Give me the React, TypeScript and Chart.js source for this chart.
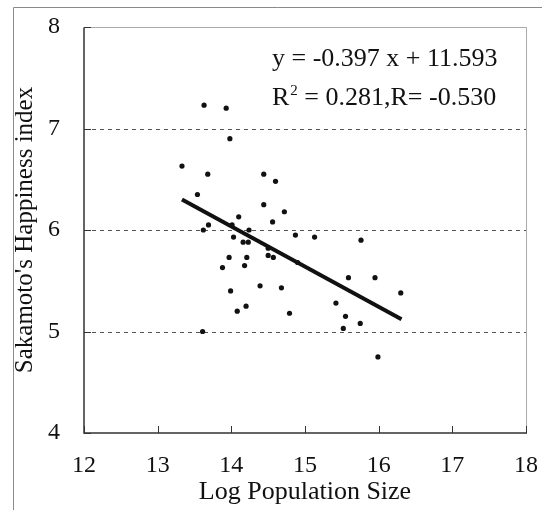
import React, { useEffect, useRef } from "react";
import { Chart, registerables } from "chart.js";
Chart.register(...registerables);

const popX = [13.63, 13.93, 13.98, 13.33, 13.68, 14.44, 14.6, 13.54, 14.44, 14.72, 14.1, 14.56, 13.69, 14.01, 13.62, 14.24, 14.03, 14.87, 15.13, 14.16, 14.23, 15.76, 14.5, 14.57, 13.97, 14.21, 14.18, 13.88, 15.59, 15.95, 14.39, 14.68, 13.99, 16.3, 15.42, 14.2, 14.08, 14.79, 15.55, 15.75, 15.52, 13.61, 15.99, 14.5, 14.9];
const happyY = [7.23, 7.2, 6.9, 6.63, 6.55, 6.55, 6.48, 6.35, 6.25, 6.18, 6.13, 6.08, 6.05, 6.05, 6.0, 6.0, 5.93, 5.95, 5.93, 5.88, 5.88, 5.9, 5.75, 5.73, 5.73, 5.73, 5.65, 5.63, 5.53, 5.53, 5.45, 5.43, 5.4, 5.38, 5.28, 5.25, 5.2, 5.18, 5.15, 5.08, 5.03, 5.0, 4.75, 5.82, 5.68];
const fitX = [13.33, 16.31];
const fitY = [6.3, 5.12];
const xTickValues = [12, 13, 14, 15, 16, 17, 18];
const yTickValues = [4, 5, 6, 7, 8];
const gridValues = [5, 6, 7];
const xTitle = "Log Population Size";
const yTitle = "Sakamoto's Happiness index";
const eqLine1 = "y = -0.397 x + 11.593";
const eqLine2a = "R";
const eqLine2sup = "2";
const eqLine2b = " = 0.281,R= -0.530";

const FONT = "'Liberation Serif', 'Times New Roman', serif";

export default function App() {
  const ref = useRef<HTMLCanvasElement | null>(null);
  useEffect(() => {
    if (!ref.current) return;
    const decor = {
      id: "decor",
      beforeDraw(chart: any) {
        const ctx = chart.ctx;
        ctx.save();
        ctx.fillStyle = "#fff";
        ctx.fillRect(0, 0, chart.width, chart.height);
        ctx.strokeStyle = "#8a8a8a";
        ctx.lineWidth = 1;
        ctx.beginPath();
        ctx.moveTo(13.5, chart.height);
        ctx.lineTo(13.5, 7.5);
        ctx.lineTo(chart.width, 7.5);
        ctx.stroke();
        ctx.restore();
      },
      beforeDatasetsDraw(chart: any) {
        const ctx = chart.ctx;
        const { left, right, top, bottom } = chart.chartArea;
        const xs = chart.scales.x;
        const ys = chart.scales.y;
        ctx.save();
        ctx.strokeStyle = "#555";
        ctx.lineWidth = 1;
        ctx.setLineDash([4, 4]);
        for (const v of gridValues) {
          const y = Math.round(ys.getPixelForValue(v)) + 0.5;
          ctx.beginPath();
          ctx.moveTo(left, y);
          ctx.lineTo(right, y);
          ctx.stroke();
        }
        ctx.setLineDash([]);
        ctx.strokeStyle = "#aaa";
        ctx.beginPath();
        ctx.moveTo(left, Math.round(top) + 0.5);
        ctx.lineTo(Math.round(right) + 0.5, Math.round(top) + 0.5);
        ctx.lineTo(Math.round(right) + 0.5, Math.round(bottom) + 0.5);
        ctx.stroke();
        ctx.strokeStyle = "#333";
        ctx.lineWidth = 1.5;
        ctx.beginPath();
        ctx.moveTo(Math.round(left), Math.round(top) + 0.5);
        ctx.lineTo(Math.round(left), Math.round(bottom));
        ctx.lineTo(Math.round(right) + 1, Math.round(bottom));
        ctx.stroke();
        ctx.lineWidth = 1;
        for (const v of xTickValues) {
          const x = Math.round(xs.getPixelForValue(v)) + 0.5;
          ctx.beginPath();
          ctx.moveTo(x, bottom);
          ctx.lineTo(x, bottom - 7);
          ctx.stroke();
        }
        for (const v of yTickValues) {
          const y = Math.round(ys.getPixelForValue(v)) + 0.5;
          ctx.beginPath();
          ctx.moveTo(left, y);
          ctx.lineTo(left + 7, y);
          ctx.stroke();
        }
        ctx.restore();
      },
      afterDraw(chart: any) {
        const ctx = chart.ctx;
        ctx.save();
        ctx.fillStyle = "#111";
        ctx.textBaseline = "alphabetic";
        ctx.textAlign = "left";
        ctx.font = `26px ${FONT}`;
        const x0 = 272;
        ctx.fillText(eqLine1, x0, 66);
        ctx.fillText(eqLine2a, x0, 105);
        const wR = ctx.measureText(eqLine2a).width;
        ctx.font = `15px ${FONT}`;
        ctx.fillText(eqLine2sup, x0 + wR + 1, 95);
        const wS = ctx.measureText(eqLine2sup).width;
        ctx.font = `26px ${FONT}`;
        ctx.fillText(eqLine2b, x0 + wR + wS + 1, 105);
        ctx.restore();
      },
    };
    const chart = new Chart(ref.current, {
      type: "scatter",
      data: {
        datasets: [
          {
            type: "scatter",
            data: popX.map((x, i) => ({ x, y: happyY[i] })),
            backgroundColor: "#111",
            borderColor: "#111",
            pointRadius: 2.6,
            borderWidth: 0,
          },
          {
            type: "line",
            data: fitX.map((x, i) => ({ x, y: fitY[i] })),
            borderColor: "#111",
            borderWidth: 4,
            pointRadius: 0,
            fill: false,
            borderCapStyle: "butt",
          } as any,
        ],
      },
      options: {
        animation: false,
        responsive: false,
        maintainAspectRatio: false,
        events: [],
        layout: { padding: { top: 27, right: 16, left: 0, bottom: 0 } },
        plugins: { legend: { display: false }, tooltip: { enabled: false } },
        scales: {
          x: {
            type: "linear",
            min: 12,
            max: 18,
            afterBuildTicks: (s: any) => {
              s.ticks = xTickValues.map((v) => ({ value: v }));
            },
            ticks: { color: "#111", font: { family: FONT, size: 24 }, padding: 18, maxRotation: 0 },
            grid: { display: false, drawTicks: false },
            border: { display: false },
            title: { display: true, text: xTitle, color: "#111", font: { family: FONT, size: 26 }, padding: { top: 0, bottom: 2 } },
            afterFit: (s: any) => {
              s.height = 77;
              s.paddingLeft = 0;
              s.paddingRight = 0;
            },
          },
          y: {
            type: "linear",
            min: 4,
            max: 8,
            afterBuildTicks: (s: any) => {
              s.ticks = yTickValues.map((v) => ({ value: v }));
            },
            ticks: { color: "#111", font: { family: FONT, size: 24 }, padding: 24 },
            grid: { display: false, drawTicks: false },
            border: { display: false },
            title: { display: true, text: yTitle, color: "#111", font: { family: FONT, size: 25 }, padding: { top: 10, bottom: 0 } },
            afterFit: (s: any) => {
              s.width = 84;
              s.paddingTop = 0;
              s.paddingBottom = 0;
            },
          },
        },
      },
      plugins: [decor],
    } as any);
    return () => chart.destroy();
  }, []);
  return (
    <div style={{ position: "fixed", left: 0, top: 0, width: 542, height: 510 }}>
      <canvas ref={ref} width={542} height={510} style={{ display: "block", width: 542, height: 510 }} />
    </div>
  );
}
